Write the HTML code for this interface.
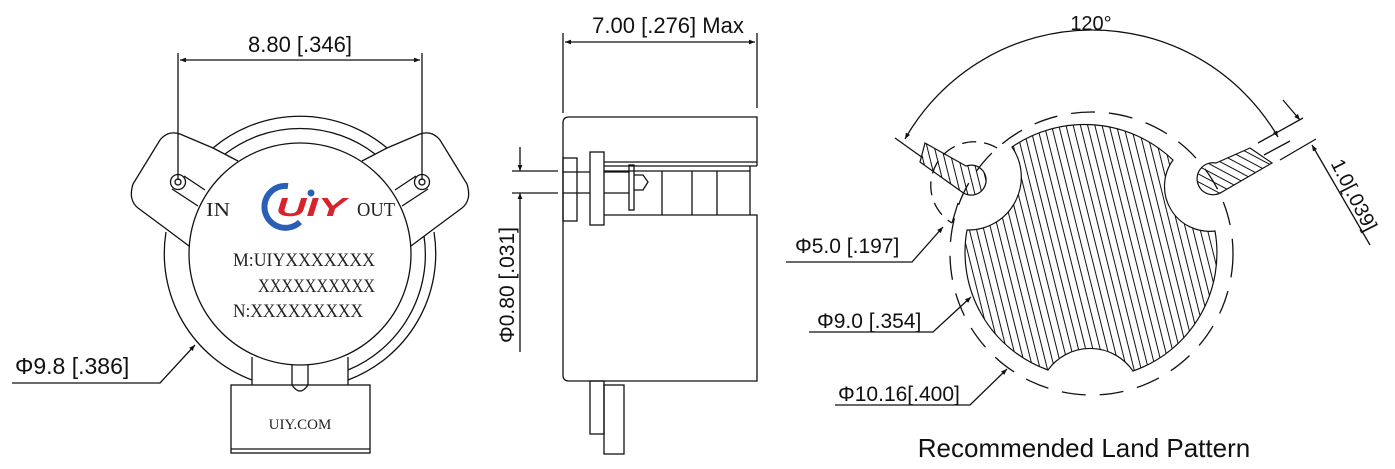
<!DOCTYPE html>
<html><head><meta charset="utf-8"><style>
html,body{margin:0;padding:0;background:#fff;}
svg{display:block;}
.l{fill:none;stroke:#111;stroke-width:1.3;}
.t{font-family:"Liberation Sans",sans-serif;fill:#111;}
.s{font-family:"Liberation Serif",serif;fill:#222;}
</style></head><body>
<svg width="1395" height="469" viewBox="0 0 1395 469" xmlns="http://www.w3.org/2000/svg">
<defs>
<marker id="ar" viewBox="0 0 10 10" refX="10" refY="5" markerWidth="9" markerHeight="6" orient="auto-start-reverse" markerUnits="userSpaceOnUse"><path d="M0,1 L10,5 L0,9 z" fill="#111"/></marker>
<pattern id="h1" width="7" height="7" patternUnits="userSpaceOnUse" patternTransform="rotate(-14)"><line x1="3" y1="0" x2="3" y2="7" stroke="#111" stroke-width="1"/></pattern>
<pattern id="h2" width="7" height="7" patternUnits="userSpaceOnUse" patternTransform="rotate(-62)"><line x1="3" y1="0" x2="3" y2="7" stroke="#111" stroke-width="1"/></pattern>
</defs>

<!-- ===== LEFT VIEW ===== -->
<text class="t" x="300" y="52" font-size="22" text-anchor="middle">8.80 [.346]</text>
<line class="l" x1="178" y1="53" x2="178" y2="180"/>
<line class="l" x1="422" y1="53" x2="422" y2="180"/>
<line class="l" x1="180" y1="60" x2="420" y2="60" marker-start="url(#ar)" marker-end="url(#ar)"/>

<path class="l" d="M213,148 A135,135 0 0 1 387,148"/>
<path class="l" d="M225,154 A123,123 0 0 1 375,154"/>
<path class="l" d="M166,232 A135,135 0 0 0 252,380"/>
<path class="l" d="M434,232 A135,135 0 0 1 348,380"/>
<path class="l" d="M424,236 A125,125 0 0 1 348,370"/>
<g id="ear">
<path class="l" d="M213,148 L180,134 Q168,130 160,140 L133,184 Q128,200 138,208 L165,228 L189,246"/>
<line class="l" x1="213" y1="148" x2="238" y2="161"/>
<path class="l" d="M184,176 L205,190 M172,189 L198,206"/>
<circle class="l" cx="178" cy="182" r="7.5"/>
<circle class="l" cx="178" cy="182" r="3"/>
</g>
<use href="#ear" transform="translate(600,0) scale(-1,1)"/>
<circle class="l" cx="300" cy="254" r="111"/>
<path d="M288,186 A21,21 0 1 0 300,222" fill="none" stroke="#2a5fb8" stroke-width="6"/>
<text x="276" y="216" font-family="Liberation Sans,sans-serif" font-weight="bold" font-style="italic" font-size="26" fill="#d8232a" textLength="70" lengthAdjust="spacingAndGlyphs">UIY</text>
<circle cx="311" cy="193" r="3.5" fill="#2a5fb8"/>
<text class="s" x="206" y="216" font-size="20" textLength="24" lengthAdjust="spacingAndGlyphs">IN</text>
<text class="s" x="357" y="216" font-size="20" textLength="38" lengthAdjust="spacingAndGlyphs">OUT</text>
<text class="s" x="233" y="266" font-size="19" textLength="142" lengthAdjust="spacingAndGlyphs">M:UIYXXXXXXX</text>
<text class="s" x="258" y="292" font-size="19" textLength="117" lengthAdjust="spacingAndGlyphs">XXXXXXXXXX</text>
<text class="s" x="233" y="317" font-size="19" textLength="130" lengthAdjust="spacingAndGlyphs">N:XXXXXXXXX</text>
<path class="l" d="M252,357 L252,385 M348,357 L348,385"/>
<path class="l" d="M292,365 L292,385 Q300,397 308,385 L308,365"/>
<rect class="l" x="231" y="385" width="139" height="68" fill="#fff"/>
<line class="l" x1="231" y1="449" x2="370" y2="449"/>
<text class="s" x="300" y="429" font-size="15" text-anchor="middle">UIY.COM</text>
<text class="t" x="15" y="374" font-size="23">Φ9.8 [.386]</text>
<path class="l" d="M12,383 L160,383 L195,345" marker-end="url(#ar)"/>

<!-- ===== MIDDLE VIEW ===== -->
<text class="t" x="668" y="33" font-size="22" text-anchor="middle">7.00 [.276] Max</text>
<line class="l" x1="563" y1="33" x2="563" y2="113"/>
<line class="l" x1="757" y1="33" x2="757" y2="108"/>
<line class="l" x1="565" y1="42" x2="755" y2="42" marker-start="url(#ar)" marker-end="url(#ar)"/>
<path class="l" d="M757,166 L757,117 L569,117 Q563,117 563,123 L563,375 Q563,381 569,381 L757,381 L757,215 L604,215"/>
<path class="l" d="M604,162 L757,162 M604,166 L757,166 M604,171 L750,171 L750,215"/>
<path class="l" d="M662,171 L662,215 M692,171 L692,215 M717,171 L717,215 M750,166 L750,171"/>
<rect class="l" x="563" y="158" width="14" height="63" fill="#fff"/>
<rect class="l" x="590" y="152" width="14" height="73" fill="#fff"/>
<path class="l" d="M563,172 L590,172 M563,193 L590,193 M604,172 L629,172 M604,193 L629,193 M634,175 L643,175 L648,182 L643,190 L634,190"/>
<rect class="l" x="629" y="165" width="5" height="45" fill="#fff"/>
<rect class="l" x="590" y="381" width="14" height="53"/>
<rect class="l" x="604" y="385" width="20" height="69"/>
<path class="l" d="M512,171 L558,171 M512,193 L558,193"/>
<line class="l" x1="520" y1="147" x2="520" y2="171" marker-end="url(#ar)"/>
<line class="l" x1="520" y1="352" x2="520" y2="193" marker-end="url(#ar)"/>
<text class="t" font-size="21" text-anchor="middle" transform="translate(514,285) rotate(-90)">Φ0.80 [.031]</text>

<!-- ===== RIGHT VIEW ===== -->
<text class="t" x="1091" y="30" font-size="20" text-anchor="middle">120°</text>
<path class="l" d="M905,139 A215,215 0 0 1 1278,137" marker-start="url(#ar)" marker-end="url(#ar)"/>
<line class="l" x1="895" y1="138" x2="923" y2="158"/>
<circle class="l" cx="1091.5" cy="253.5" r="141.5" stroke-dasharray="24,14" stroke-width="1.1"/>
<!-- main pad -->
<path d="M1012,147 A128,128 0 0 1 1173,160 A45,45 0 0 0 1215,231 A125,125 0 0 1 1133,371 A52,52 0 0 0 1048,370 A125,125 0 0 1 967,230 A53,53 0 0 0 1012,147 Z" fill="url(#h1)" stroke="#111" stroke-width="1.2"/>
<!-- left small dashed circle -->
<path class="l" d="M997,148 A40,40 0 1 0 952,223" stroke-dasharray="14,8"/>
<line class="l" x1="958" y1="203" x2="952" y2="223"/>
<!-- left pad -->
<path d="M925,143 L966,166 A15,15 0 1 1 962,192 L920,162 Z" fill="url(#h1)" stroke="#111" stroke-width="1.2"/>
<!-- right pad -->
<path d="M1250,148 L1272,163 L1222,192 A16,16 0 1 1 1216,163 Z" fill="url(#h2)" stroke="#111" stroke-width="1.2"/>
<!-- 1.0 dim -->
<path class="l" d="M1258,143 L1303,118 M1280,160 L1316,139 M1264,155 L1290,141"/>
<line class="l" x1="1283" y1="100" x2="1300" y2="120" marker-end="url(#ar)"/>
<line class="l" x1="1370" y1="245" x2="1312" y2="145" marker-end="url(#ar)"/>
<text class="t" font-size="20" text-anchor="middle" transform="translate(1348,198) rotate(63)">1.0[.039]</text>
<!-- labels -->
<text class="t" x="795" y="253" font-size="21">Φ5.0 [.197]</text>
<path class="l" d="M786,262 L912,262 L943,227" marker-end="url(#ar)"/>
<text class="t" x="817" y="328" font-size="21">Φ9.0 [.354]</text>
<path class="l" d="M809,332 L933,332 L971,297" marker-end="url(#ar)"/>
<text class="t" x="838" y="401" font-size="21">Φ10.16[.400]</text>
<path class="l" d="M835,405 L970,405 L1007,369" marker-end="url(#ar)"/>
<text class="t" x="1084" y="457" font-size="26" text-anchor="middle">Recommended Land Pattern</text>
</svg>
</body></html>
